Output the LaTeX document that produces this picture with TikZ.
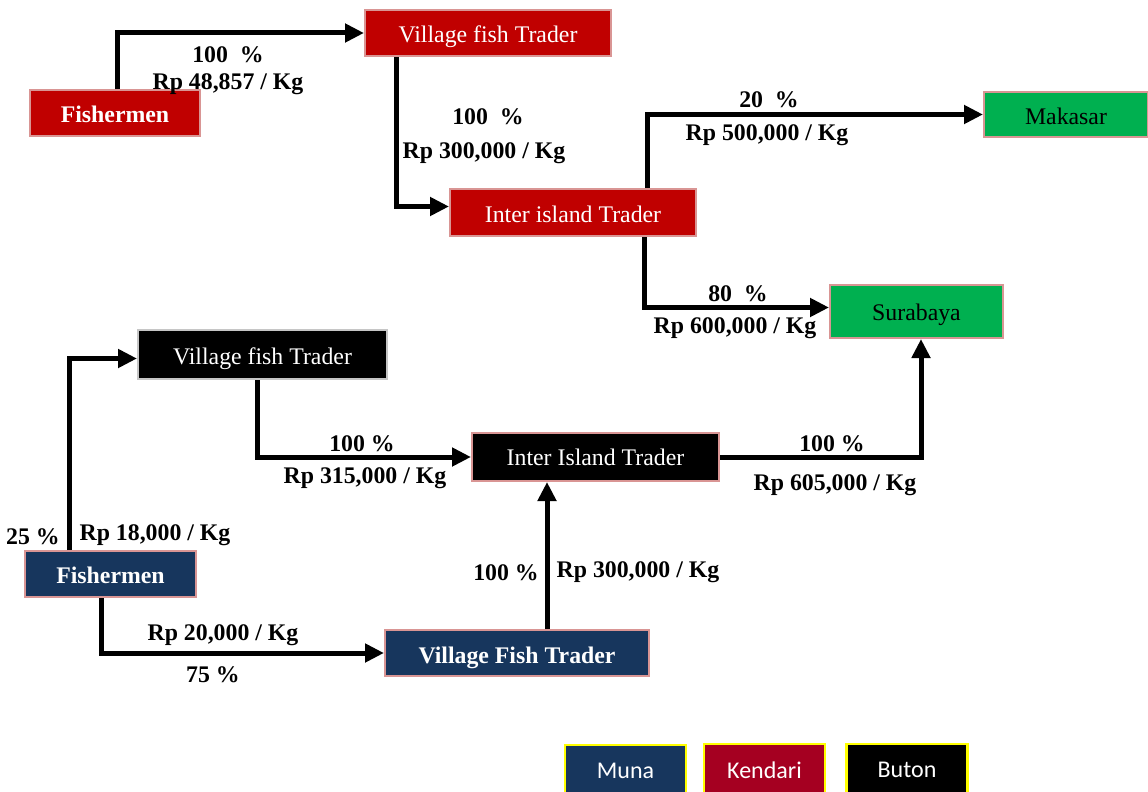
\documentclass[tikz,border=0pt]{standalone}
\usepackage{fontspec}
\setmainfont{Liberation Serif}
\newfontfamily\legendfont{Carlito}
\usetikzlibrary{arrows.meta}
\definecolor{kendarired}{HTML}{C00000}
\definecolor{kendarikey}{HTML}{A50021}
\definecolor{munanavy}{HTML}{17365D}
\definecolor{destgreen}{HTML}{00B050}
\definecolor{pinkline}{HTML}{D99594}
\definecolor{keyyellow}{HTML}{FFFF00}
\begin{document}
\begin{tikzpicture}[x=1pt,y=-1pt,
  box/.style={draw=pinkline, line width=2pt, inner sep=0pt, text=white,
    text height=20pt, text depth=0pt, font=\fontsize{23.8}{28}\selectfont},
  boldbox/.style={box, font=\fontsize{23.8}{28}\selectfont\bfseries},
  kbox/.style={box, fill=kendarired},
  gbox/.style={box, fill=destgreen, text=black},
  bbox/.style={box, fill=black},
  mbox/.style={boldbox, fill=munanavy},
  lbl/.style={inner sep=0pt, yshift=-2.5pt, font=\fontsize{23.8}{28}\selectfont\bfseries},
  flow/.style={line width=5pt, -{Triangle[length=19pt,width=18pt]}},
  keybox/.style={draw=keyyellow, line width=2.5pt, inner sep=0pt, text=white,
    text depth=0pt, minimum width=121pt, minimum height=52pt,
    font=\legendfont\fontsize{24}{28}\selectfont}
]
\useasboundingbox (0,0) rectangle (1148,792);
\clip (0,0) rectangle (1148,792);

% Kendari chain
\node[kbox, boldbox, text height=18pt, minimum width=170pt, minimum height=46pt] (fk) at (115,113) {Fishermen};
\node[kbox, minimum width=246pt, minimum height=46pt] (vk) at (488,33) {Village fish Trader};
\node[kbox, minimum width=246pt, minimum height=47pt] (ik) at (573,212.5) {Inter island Trader};
\node[gbox, minimum width=164pt, minimum height=45pt] (mk) at (1066,114.5) {Makasar};
\node[gbox, text height=17pt, minimum width=173pt, minimum height=53pt] (sb) at (916.5,311.5) {Surabaya};

% Buton and Muna chains
\node[bbox, draw=gray!45, minimum width=249pt, minimum height=49pt] (vb) at (262.5,354.5) {Village fish Trader};
\node[bbox, text height=17pt, minimum width=247pt, minimum height=48pt] (ib) at (595.5,457) {Inter Island Trader};
\node[mbox, text height=18pt, minimum width=171pt, minimum height=46pt] (fm) at (110.5,574) {Fishermen};
\node[mbox, text height=21pt, minimum width=264pt, minimum height=46pt] (vm) at (517,653) {Village Fish Trader};

% Flows
\draw[flow] ([xshift=88pt]fk.north west) |- (vk.west);
\draw[flow] ([xshift=32pt]vk.south west) |- ([yshift=6pt]ik.west);
\draw[flow] ([xshift=198pt]ik.north west) |- (mk.west);
\draw[flow] ([xshift=195pt]ik.south west) |- ([yshift=4pt]sb.west);
\draw[flow] ([xshift=45pt]fm.north west) |- ([yshift=-4pt]vb.west);
\draw[flow] ([xshift=120pt]vb.south west) |- (ib.west);
\draw[flow] ([xshift=77pt]fm.south west) |- (vm.west);
\coordinate (vmup) at ([xshift=163pt]vm.north west);
\draw[flow] (vmup) -- (vmup |- ib.south);
\draw[flow] (ib.east) -| ([xshift=92pt]sb.south west);

% Flow labels
\node[lbl] (p1) at (228,52) {100~~\%};
\node[lbl] (r1) at (228,82) {Rp 48,857 / Kg};
\node[lbl] (p2) at (488,114) {100~~\%};
\node[lbl] (r2) at (484,151) {Rp 300,000 / Kg};
\node[lbl] (p3) at (769,97) {20~~\%};
\node[lbl] (r3) at (767,133) {Rp 500,000 / Kg};
\node[lbl] (p4) at (738,291) {80~~\%};
\node[lbl] (r4) at (735,326) {Rp 600,000 / Kg};
\node[lbl] (p5) at (33,534) {25 \%};
\node[lbl] (r5) at (155,533) {Rp 18,000 / Kg};
\node[lbl] (p6) at (362,441) {100 \%};
\node[lbl] (r6) at (365,476) {Rp 315,000 / Kg};
\node[lbl] (r7) at (223,633) {Rp 20,000 / Kg};
\node[lbl] (p7) at (213,672) {75 \%};
\node[lbl] (p8) at (506,570) {100 \%};
\node[lbl] (r8) at (638,570) {Rp 300,000 / Kg};
\node[lbl] (p9) at (832,441) {100 \%};
\node[lbl] (r9) at (835,483) {Rp 605,000 / Kg};

% Key
\node[keybox, fill=munanavy] (kmuna) at (625.5,771) {Muna};
\node[keybox, fill=kendarikey] (kkend) at (764.5,770) {Kendari};
\node[keybox, fill=black] (kbut) at (907,770) {Buton};
\end{tikzpicture}
\end{document}
